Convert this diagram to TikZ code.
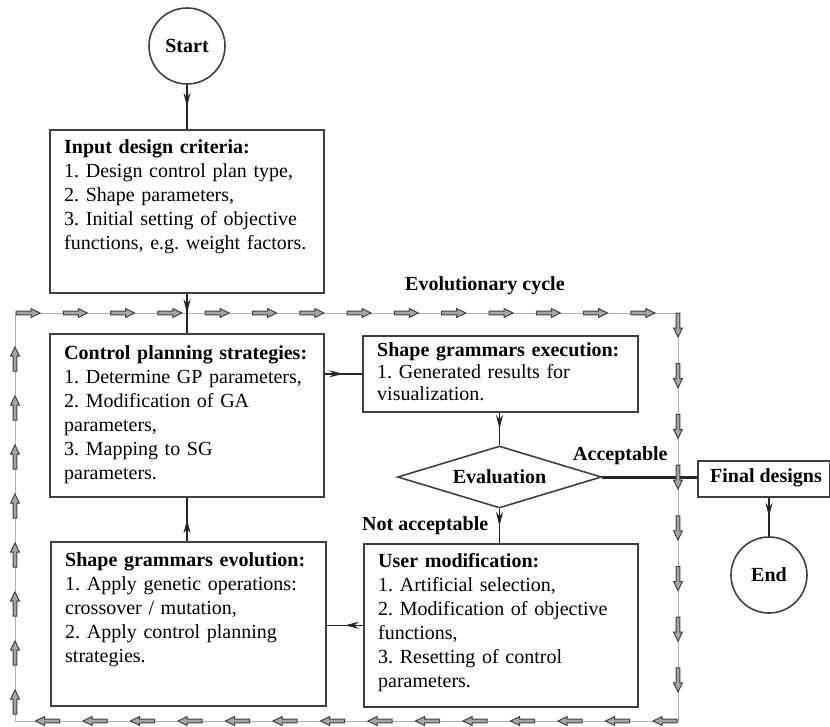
\documentclass[tikz,border=0pt]{standalone}
\usepackage{fontspec}
\setmainfont{Liberation Serif}
\frenchspacing
\usetikzlibrary{arrows.meta,decorations.markings,shapes.geometric}
\begin{document}
\begin{tikzpicture}[x=1pt,y=-1pt,
  box/.style={draw=black!75,line width=1.6pt,rectangle,inner sep=0pt,anchor=north west},
  circ/.style={draw=black!75,line width=1.6pt,circle,inner sep=0pt,minimum size=76pt,font=\bfseries\fontsize{20}{24}\selectfont},
  txt/.style={inner sep=0pt,anchor=base west,align=left,font=\fontsize{20}{24}\selectfont},
  lbl/.style={inner sep=0pt,anchor=base west,font=\bfseries\fontsize{20}{24}\selectfont},
  conn/.style={line width=1.6pt,black!85},
  mid/.style={postaction={decorate,decoration={markings,mark=at position 0.5 with {\arrow{Stealth[length=14pt,width=7pt]}}}}},
  cyc/.pic={\draw[black!75,fill=black!35,line width=1pt] (-12,-1.9) -- (3,-1.9) -- (3,-4.4) -- (12,0) -- (3,4.4) -- (3,1.9) -- (-12,1.9) -- cycle;}
]
\useasboundingbox (0,0) rectangle (830,726);

% evolutionary cycle border
\draw[black!30,line width=0.8pt] (15,313) rectangle (678,721);

% nodes
\node[circ] (start) at (187,46) {Start};
\node[box,minimum width=274pt,minimum height=163pt] (input) at (49,129) {};
\node[txt,text width=260pt] (inputtxt) at (64,153) {\textbf{Input design criteria:}\\1. Design control plan type,\\2. Shape parameters,\\3. Initial setting of objective\\functions, e.g. weight factors.};

\node[lbl] (evolabel) at (405,290) {Evolutionary cycle};

\node[box,minimum width=274pt,minimum height=163pt] (ctrl) at (49,333) {};
\node[txt,text width=260pt] (ctrltxt) at (64,359) {\textbf{Control planning strategies:}\\1. Determine GP parameters,\\2. Modification of GA\\parameters,\\3. Mapping to SG\\parameters.};

\node[box,minimum width=275pt,minimum height=76pt] (exec) at (362,335) {};
\node[txt,text width=265pt,font=\fontsize{20}{22}\selectfont] (exectxt) at (377,356) {\textbf{Shape grammars execution:}\\1. Generated results for\\visualization.};

\node[diamond,draw=black!75,line width=1.6pt,inner sep=0pt,minimum width=204pt,minimum height=62pt,aspect=3.3,font=\bfseries\fontsize{20}{24}\selectfont] (eval) at (499.5,477) {Evaluation};

\node[lbl] (acc) at (573,460) {Acceptable};
\node[lbl] (notacc) at (362,530) {Not acceptable};

\node[box,minimum width=132pt,minimum height=36pt] (final) at (697,460) {};
\node[inner sep=0pt,font=\bfseries\fontsize{20}{24}\selectfont] (finaltxt) at (766,478) {Final designs};
\node[circ] (end) at (769,575) {End};

\node[box,minimum width=275pt,minimum height=164pt] (evol) at (50,541) {};
\node[txt,text width=265pt] (evoltxt) at (65,566) {\textbf{Shape grammars evolution:}\\1. Apply genetic operations:\\crossover / mutation,\\2. Apply control planning\\strategies.};

\node[box,minimum width=274pt,minimum height=163pt] (user) at (363,543) {};
\node[txt,text width=265pt] (usertxt) at (378,567) {\textbf{User modification:}\\1. Artificial selection,\\2. Modification of objective\\functions,\\3. Resetting of control\\parameters.};

% connectors
\draw[conn,mid] (start.south) -- (input.north -| start.south);
\draw[conn,mid] (input.south -| start.south) -- (ctrl.north -| start.south);
\draw[conn,mid] (evol.north -| start.south) -- (ctrl.south -| start.south);
\draw[conn,mid] (ctrl.east |- exec.west) -- (exec.west);
\draw[conn,mid] (exec.south -| eval.north) -- (eval.north);
\draw[conn,mid] (eval.south) -- (user.north -| eval.south);
\draw[conn,mid] (user.west) -- (evol.east |- user.west);
\draw[line width=3pt,black!85] (eval.east) -- (final.west |- eval.east);
\draw[conn,mid] (final.south -| end.north) -- (end.north);

% cycle arrows
\foreach \i in {0,...,13} \pic at ({28+47.3*\i},313) {cyc};
\foreach \i in {0,...,7} \pic[rotate=-90] at (678,{325+50.7*\i}) {cyc};
\foreach \i in {0,...,13} \pic[rotate=180] at ({665-47.5*\i},721) {cyc};
\foreach \i in {0,...,7} \pic[rotate=90] at (15,{702-49*\i}) {cyc};
\end{tikzpicture}
\end{document}
